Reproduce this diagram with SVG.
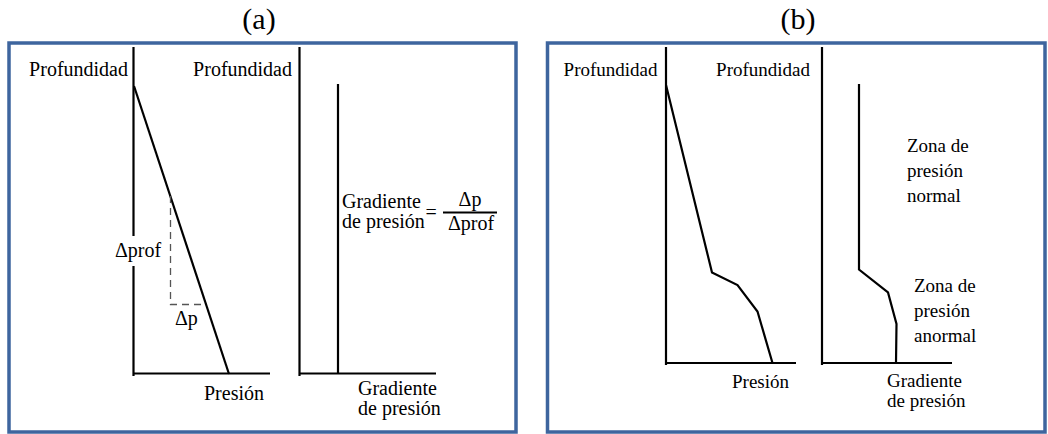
<svg xmlns="http://www.w3.org/2000/svg" width="1048" height="434" viewBox="0 0 1048 434">
  <style>
    .frame { fill: #ffffff; stroke: #3e659e; stroke-width: 3.5; }
    .axis { fill: none; stroke: #000000; stroke-width: 2.2; }
    .curve { fill: none; stroke: #000000; stroke-width: 2.2; stroke-linejoin: miter; }
    .dash { fill: none; stroke: #555555; stroke-width: 1.3; stroke-dasharray: 7 5; }
    text { fill: #000000; }
    .t { font-size: 20px; }
    .tb { font-size: 19px; }
    .title { font-size: 30px; text-anchor: middle; }
    .end { text-anchor: end; }
    .mid { text-anchor: middle; }
  </style>

  <rect width="1048" height="434" fill="#ffffff"/>

  <g font-family="Liberation Serif, Tinos, DejaVu Serif, Times New Roman, serif">
  <!-- Panel (a): constant pressure gradient -->
  <g id="panel-a">
    <text class="title" x="259" y="29">(a)</text>
    <rect class="frame" x="9" y="43" width="507" height="389"/>

    <!-- depth vs pressure -->
    <g id="a-pressure-plot">
      <path class="axis" d="M133.5 47 V376 M133.5 373.5 H270"/>
      <path class="curve" d="M134 86 L229 374"/>
      <path class="dash" d="M170.5 196 V304.5 H201"/>
      <rect x="112" y="236" width="52" height="30" fill="#ffffff"/>
      <text class="t" x="115" y="257">Δprof</text>
      <text class="t" x="175" y="325">Δp</text>
      <text class="t end" x="128" y="76">Profundidad</text>
      <text class="t" x="204" y="400">Presión</text>
    </g>

    <!-- depth vs pressure gradient -->
    <g id="a-gradient-plot">
      <path class="axis" d="M299.5 47 V376 M299.5 373.5 H436"/>
      <path class="curve" d="M338 84 V374"/>
      <text class="t end" x="292" y="76">Profundidad</text>
      <text class="t" x="342" y="207.5">Gradiente</text>
      <text class="t" x="342" y="228">de presión</text>
      <text class="t" x="425.5" y="219">=</text>
      <line x1="443" y1="212.5" x2="497" y2="212.5" stroke="#000000" stroke-width="2"/>
      <text class="t mid" x="470" y="206">Δp</text>
      <text class="t mid" x="471" y="230">Δprof</text>
      <text class="t" x="358" y="394.5">Gradiente</text>
      <text class="t" x="358" y="414.5">de presión</text>
    </g>
  </g>

  <!-- Panel (b): transition into an overpressured zone -->
  <g id="panel-b">
    <text class="title" x="798" y="29">(b)</text>
    <rect class="frame" x="547.5" y="43" width="497.5" height="389"/>

    <g id="b-pressure-plot">
      <path class="axis" d="M666 47 V365 M666 363 H796"/>
      <path class="curve" d="M666 85 L712 272.5 L737.5 285 L757.5 311.5 L772.5 363"/>
      <text class="tb end" x="657.5" y="76">Profundidad</text>
      <text class="tb" x="732" y="387.5">Presión</text>
    </g>

    <g id="b-gradient-plot">
      <path class="axis" d="M822 47 V365 M822 363 H952"/>
      <path class="curve" d="M859 84 V269.5 L888 292.5 L896.5 324 L896 363"/>
      <text class="tb end" x="810" y="76">Profundidad</text>
      <text class="tb" x="907" y="151.5">Zona de</text>
      <text class="tb" x="907" y="176.5">presión</text>
      <text class="tb" x="907" y="201.5">normal</text>
      <text class="tb" x="914" y="292">Zona de</text>
      <text class="tb" x="914" y="316.5">presión</text>
      <text class="tb" x="914" y="341.5">anormal</text>
      <text class="tb" x="887" y="387">Gradiente</text>
      <text class="tb" x="887" y="406.5">de presión</text>
    </g>
  </g>
  </g>
</svg>
